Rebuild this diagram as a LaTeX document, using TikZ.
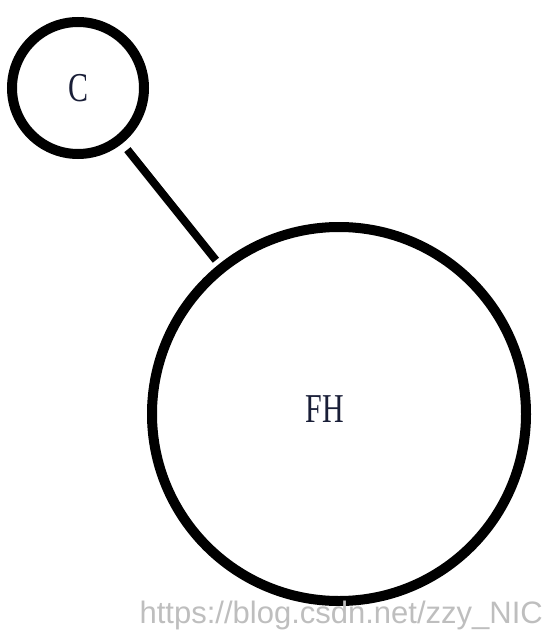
\documentclass[tikz,border=0pt]{standalone}
\usepackage{fontspec}
\usepackage{tikz}
\usetikzlibrary{calc}
\usepackage{xcolor}
\newfontfamily\narrowserif[FakeStretch=0.73]{Liberation Serif}
\newfontfamily\markfont{Liberation Sans}
\definecolor{labelink}{RGB}{25,30,55}
\definecolor{markgray}{RGB}{190,190,190}

\begin{document}
\begin{tikzpicture}[x=1pt,y=-1pt]
    \useasboundingbox (0,0) rectangle (545,631);
    \tikzset{ball/.style={circle,draw,line width=10pt,inner sep=0pt},
        balltext/.style={text=labelink,font=\narrowserif\fontsize{41}{41}\selectfont}}
    \node[ball,balltext,minimum size=132pt] (C) at (78,88) {C};
    \node[ball,minimum size=374pt,
        label={[balltext,xshift=-14pt,yshift=5pt]center:FH}] (FH) at (339,414) {};
    \draw[line width=8pt,shorten <=8pt,shorten >=5pt] (C)--(FH);
    % watermark
    \node[anchor=base east,inner sep=0pt,text=markgray,
        font=\markfont\fontsize{31}{31}\selectfont] (mark) at (543,623) {https://blog.csdn.net/zzy\_NIC};
\end{tikzpicture}
\end{document}
